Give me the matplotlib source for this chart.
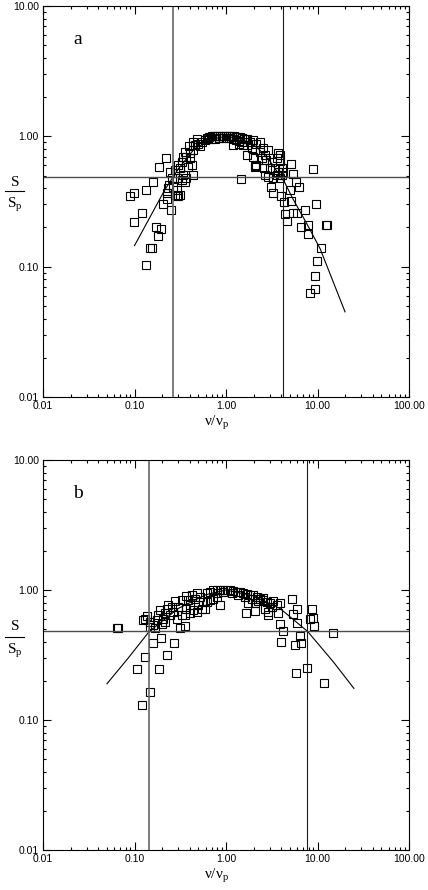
import matplotlib
matplotlib.use('Agg')
import matplotlib.pyplot as plt
from matplotlib.ticker import FixedLocator, LogLocator, NullFormatter, FormatStrFormatter
from matplotlib.lines import Line2D

plt.rcParams['font.family'] = 'Liberation Sans'
plt.rcParams['mathtext.fontset'] = 'custom'
plt.rcParams['mathtext.rm'] = 'Liberation Serif'
plt.rcParams['mathtext.it'] = 'Liberation Serif'

W, H = 428, 890

# ---- panel a: normalised flux S/Sp against nu/nu_p ----
a_nu = [0.221, 0.183, 0.16, 0.133, 0.099, 0.089, 0.12, 0.099, 0.172, 0.195, 0.18,
        0.148, 0.155, 0.133, 0.203, 0.25, 0.228, 0.29, 0.30, 0.44, 1.46,
        8.9, 9.6, 12.6, 12.3, 10.8, 9.9, 9.4, 9.45, 8.3, 7.8, 6.6, 7.9, 7.3, 5.4,
        6.0, 4.45, 4.7, 4.3, 5.1, 3.25, 4.0, 5.0, 6.2, 5.8, 5.4, 5.15, 4.1, 3.9,
        3.7, 3.1, 2.1, 2.6,
        0.244, 0.277, 0.314, 0.254, 0.288, 0.33, 0.356, 0.24, 0.265, 0.233, 0.288,
        0.314, 0.277, 0.225, 0.37, 0.34, 0.30, 0.33, 0.37, 0.40, 0.44, 0.356, 0.46,
        0.50, 0.54, 0.59, 0.64, 0.52, 0.40, 0.38, 0.44, 0.48, 0.39, 0.34, 0.42,
        0.62, 0.66, 0.70, 0.74, 0.78, 0.82, 0.86, 0.90, 0.95, 1.0, 1.05, 1.1, 1.16,
        1.22, 1.28, 1.35, 1.42, 1.5, 1.58, 1.66, 0.68, 0.76, 0.84, 0.92, 1.0, 1.08,
        1.2, 1.3, 1.4, 1.5, 1.20, 1.40, 1.55,
        1.68, 1.83, 1.98, 2.15, 2.35, 1.68, 1.91, 2.08, 2.35, 2.56, 2.66, 2.9, 1.68,
        1.98, 2.45, 2.77, 3.15, 3.6, 3.9, 3.0, 3.45, 3.73, 4.1, 3.6, 3.3, 3.9, 4.2,
        2.9, 2.66, 2.15, 2.08]
a_s = [0.68, 0.58, 0.445, 0.39, 0.37, 0.35, 0.26, 0.22, 0.20, 0.195, 0.172,
       0.14, 0.14, 0.103, 0.30, 0.27, 0.33, 0.35, 0.35, 0.505, 0.47,
       0.56, 0.30, 0.21, 0.21, 0.14, 0.11, 0.085, 0.067, 0.063, 0.178, 0.20, 0.21,
       0.27, 0.26, 0.26, 0.255, 0.225, 0.315, 0.32, 0.365, 0.35, 0.39, 0.41, 0.445,
       0.51, 0.61, 0.575, 0.65, 0.745, 0.41, 0.59, 0.57,
       0.53, 0.55, 0.57, 0.48, 0.48, 0.46, 0.445, 0.42, 0.41, 0.40, 0.385,
       0.355, 0.355, 0.37, 0.48, 0.505, 0.60, 0.64, 0.70, 0.75, 0.785, 0.76, 0.86,
       0.88, 0.91, 0.94, 0.96, 0.84, 0.68, 0.58, 0.91, 0.96, 0.84, 0.70, 0.60,
       0.97, 0.99, 1.0, 1.0, 1.0, 1.0, 1.0, 1.0, 1.0, 1.0, 1.0, 1.0, 1.0,
       1.0, 0.99, 0.99, 0.98, 0.97, 0.96, 0.95, 0.95, 0.96, 0.97, 0.97, 0.97, 0.97,
       0.95, 0.94, 0.92, 0.90, 0.86, 0.88, 0.86,
       0.96, 0.91, 0.94, 0.88, 0.91, 0.86, 0.81, 0.785, 0.76, 0.81, 0.72, 0.785, 0.72,
       0.70, 0.68, 0.66, 0.64, 0.68, 0.72, 0.57, 0.57, 0.53, 0.505, 0.505, 0.48, 0.48, 0.53,
       0.49, 0.505, 0.60, 0.58]
a_fit_nu = [0.10, 0.215, 0.30, 0.45, 0.70, 1.0, 1.5, 2.2, 3.0, 4.4, 5.4, 7.6, 10.7, 20.0]
a_fit_s = [0.145, 0.39, 0.56, 0.80, 0.95, 1.0, 0.95, 0.82, 0.65, 0.44, 0.33, 0.215, 0.137, 0.045]
a_lo, a_hi = 0.263, 4.2

# ---- panel b ----
b_nu = [0.064, 0.066, 0.16, 0.195, 0.27, 0.13, 0.225, 0.107, 0.187, 0.148, 0.122,
        0.314, 0.36, 0.87,
        14.9, 11.8, 7.6, 5.8, 3.96, 5.7, 6.6, 6.4, 4.2, 3.9, 5.97, 9.2, 8.3, 8.9,
        8.6, 5.4, 5.9, 5.3, 3.7, 2.9, 1.67, 2.07, 1.75,
        0.123, 0.138, 0.148, 0.130, 0.161, 0.175, 0.182, 0.148, 0.167, 0.198, 0.207,
        0.215, 0.19, 0.225, 0.234, 0.255, 0.244, 0.265, 0.277, 0.30, 0.328, 0.356,
        0.37, 0.40, 0.387, 0.42, 0.46, 0.48, 0.52, 0.50, 0.44, 0.54, 0.565, 0.615,
        0.67, 0.73, 0.79, 0.86, 0.93, 1.02, 1.11, 1.20, 1.31, 1.42, 1.55, 1.68, 1.83,
        1.99, 2.17, 2.35, 2.56, 2.79, 3.03, 3.29, 3.58, 3.89, 3.16, 2.67, 2.90, 2.56,
        0.615, 0.67, 0.73, 0.79, 0.59, 0.48, 0.40, 0.289, 0.215, 0.328, 0.365,
        0.79, 0.93, 1.15, 1.36, 1.61, 1.9, 2.26, 2.08]
b_s = [0.51, 0.51, 0.39, 0.425, 0.39, 0.305, 0.316, 0.247, 0.247, 0.165, 0.13,
       0.51, 0.53, 0.77,
       0.47, 0.194, 0.25, 0.23, 0.40, 0.38, 0.39, 0.44, 0.48, 0.55, 0.56, 0.53, 0.595,
       0.61, 0.71, 0.65, 0.71, 0.85, 0.67, 0.64, 0.67, 0.69, 0.79,
       0.59, 0.63, 0.57, 0.60, 0.54, 0.59, 0.64, 0.52, 0.51, 0.55, 0.60,
       0.66, 0.70, 0.72, 0.77, 0.745, 0.64, 0.68, 0.82, 0.745, 0.64, 0.645,
       0.72, 0.77, 0.84, 0.915, 0.86, 0.94, 0.89, 0.77, 0.70, 0.72, 0.81, 0.94,
       0.97, 1.0, 1.0, 1.0, 1.0, 1.0, 1.0, 0.98, 0.97, 0.96, 0.94, 0.93, 0.915,
       0.91, 0.89, 0.86, 0.84, 0.81, 0.79, 0.82, 0.77, 0.80, 0.745, 0.72, 0.68, 0.87,
       0.81, 0.84, 0.86, 0.89, 0.72, 0.68, 0.66, 0.60, 0.57, 0.84, 0.905,
       0.94, 0.96, 0.94, 0.915, 0.89, 0.85, 0.82, 0.79]
b_fit_nu = [0.05, 0.0855, 0.145, 0.30, 0.60, 1.0, 2.0, 3.9, 7.8, 14.9, 25.0]
b_fit_s = [0.19, 0.30, 0.48, 0.72, 0.92, 1.0, 0.90, 0.72, 0.48, 0.28, 0.175]
b_lo, b_hi = 0.144, 7.74

half_level = 0.484


def draw_panel(ax, nu, s, fit_nu, fit_s, lo, hi, letter):
    ax.set_xscale('log')
    ax.set_yscale('log')
    ax.set_xlim(0.01, 100)
    ax.set_ylim(0.01, 10)
    ax.plot(nu, s, ls='none', marker='s', ms=5.4, mfc='none', mec='black', mew=0.8)
    ax.plot(fit_nu, fit_s, color='black', lw=0.8)
    ax.axvline(lo, color='0.4', lw=1.2)
    ax.axvline(hi, color='0.1', lw=0.8)
    ax.axhline(half_level, color='0.3', lw=1.0)

    ax.xaxis.set_major_locator(FixedLocator([0.01, 0.1, 1, 10, 100]))
    ax.yaxis.set_major_locator(FixedLocator([0.01, 0.1, 1, 10]))
    ax.xaxis.set_minor_locator(LogLocator(base=10, subs=range(2, 10)))
    ax.yaxis.set_minor_locator(LogLocator(base=10, subs=range(2, 10)))
    ax.xaxis.set_minor_formatter(NullFormatter())
    ax.yaxis.set_minor_formatter(NullFormatter())
    ax.xaxis.set_major_formatter(FormatStrFormatter('%.2f'))
    ax.yaxis.set_major_formatter(FormatStrFormatter('%.2f'))
    ax.tick_params(which='both', direction='in', top=True, right=True,
                   width=0.8, labelsize=7.5)
    ax.tick_params(which='major', length=5.5)
    ax.tick_params(which='minor', length=2.5)
    ax.tick_params(axis='x', pad=3)
    ax.tick_params(axis='y', pad=3)
    for sp in ax.spines.values():
        sp.set_linewidth(0.8)

    ax.text(0.095, 0.915, letter, transform=ax.transAxes, fontsize=14,
            family='Liberation Serif', ha='center', va='center')


def px(x, y):
    return x / W, 1 - y / H


fig = plt.figure(figsize=(W / 100, H / 100), dpi=100)
ax_a = fig.add_axes([43 / W, 1 - 397 / H, 366 / W, 391 / H])
ax_b = fig.add_axes([43 / W, 1 - 850 / H, 366 / W, 390 / H])

draw_panel(ax_a, a_nu, a_s, a_fit_nu, a_fit_s, a_lo, a_hi, 'a')
draw_panel(ax_b, b_nu, b_s, b_fit_nu, b_fit_s, b_lo, b_hi, 'b')

# axis labels: S/Sp as a stacked fraction, nu/nu_p below each panel
for s_y, bar_y, sp_y, nu_y in [(182, 191, 205, 423), (627, 637, 651, 876)]:
    fig.text(*px(15, s_y), 'S', family='Liberation Serif', fontsize=11,
             ha='center', va='center')
    fig.add_artist(Line2D([5 / W, 24 / W], [1 - bar_y / H] * 2,
                          transform=fig.transFigure, color='black', lw=0.8))
    fig.text(*px(15, sp_y), r'$\mathrm{S_p}$', fontsize=11,
             ha='center', va='center')
    fig.text(*px(217, nu_y), r'$\mathrm{\nu/\nu_p}$', fontsize=11,
             ha='center', va='center')

fig.savefig('out.png', dpi=100)
